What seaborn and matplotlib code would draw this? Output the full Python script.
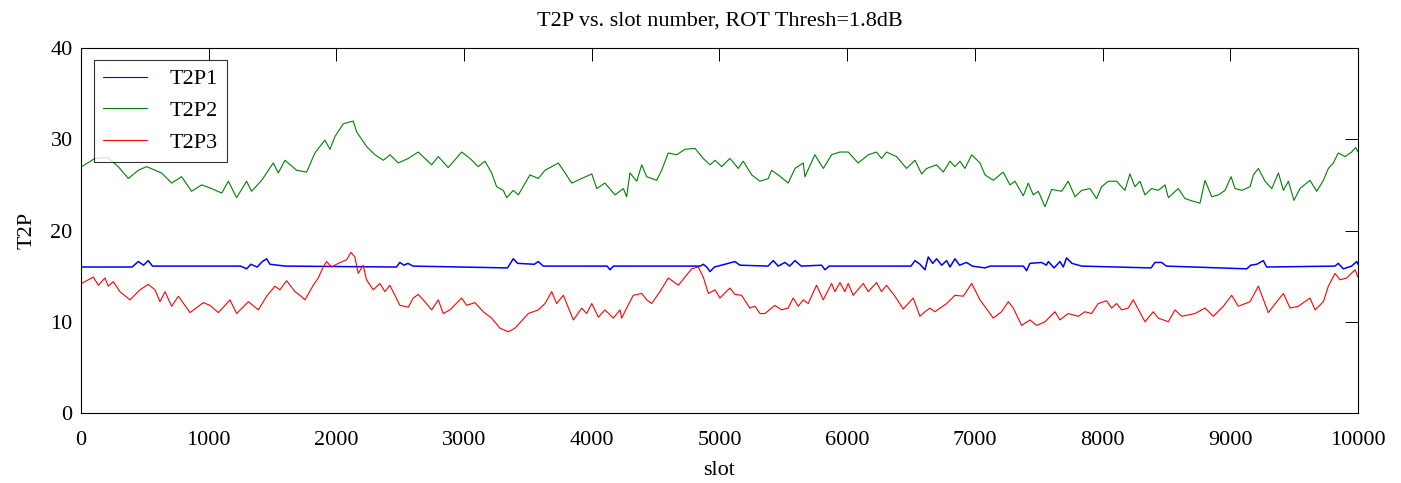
import pandas as pd
import matplotlib.pyplot as plt
import seaborn as sns

# values (slot, T2P)
slots_t2p1 = [0, 400, 449, 490, 527, 560, 1250, 1297, 1330, 1380, 1420, 1454, 1480, 1600,
              2470, 2497, 2530, 2560, 2600, 3340, 3385, 3420, 3550, 3581, 3620, 4120, 4143,
              4170, 4850, 4873, 4900, 4926, 4960, 5043, 5121, 5160, 5380, 5421, 5460, 5512,
              5550, 5591, 5640, 5800, 5826, 5860, 6500, 6531, 6570, 6609, 6635, 6670, 6700,
              6740, 6779, 6805, 6844, 6880, 6935, 6980, 7079, 7120, 7380, 7405, 7431, 7523,
              7560, 7575, 7620, 7666, 7692, 7718, 7760, 7836, 8380, 8410, 8462, 8500, 9129,
              9160, 9207, 9259, 9285, 9820, 9846, 9885, 9950, 9990, 10000]
t2p1 = [16.0, 16.0, 16.6, 16.2, 16.7, 16.1, 16.1, 15.8, 16.3, 16.0, 16.6, 16.9, 16.3, 16.1,
        16.0, 16.5, 16.2, 16.4, 16.1, 15.9, 16.9, 16.4, 16.3, 16.6, 16.1, 16.1, 15.7,
        16.1, 16.1, 16.3, 16.0, 15.5, 16.0, 16.3, 16.6, 16.2, 16.1, 16.7, 16.1, 16.5,
        16.1, 16.7, 16.1, 16.2, 15.7, 16.1, 16.1, 16.7, 16.3, 15.7, 17.1, 16.4, 16.9,
        16.2, 16.7, 16.0, 16.9, 16.2, 16.5, 16.1, 15.9, 16.1, 16.1, 15.6, 16.4, 16.5,
        16.2, 16.6, 15.9, 16.6, 16.0, 17.0, 16.4, 16.1, 15.9, 16.5, 16.5, 16.1, 15.8,
        16.2, 16.3, 16.7, 16.0, 16.1, 16.4, 15.8, 16.1, 16.6, 16.3]

slots_t2p2 = [5, 110, 210, 292, 371, 449, 514, 632, 710, 788, 866, 945, 1023, 1102, 1154,
              1219, 1297, 1336, 1415, 1506, 1545, 1597, 1689, 1767, 1832, 1910, 1950, 1989,
              2054, 2132, 2159, 2237, 2302, 2368, 2420, 2485, 2563, 2641, 2746, 2798, 2876,
              2981, 3046, 3111, 3164, 3216, 3255, 3307, 3334, 3385, 3425, 3516, 3581, 3634,
              3738, 3777, 3843, 3921, 4000, 4039, 4103, 4182, 4247, 4273, 4299, 4352, 4391,
              4430, 4508, 4547, 4599, 4665, 4730, 4808, 4873, 4926, 4965, 5017, 5082, 5147,
              5186, 5252, 5317, 5382, 5408, 5460, 5538, 5591, 5656, 5669, 5747, 5813, 5878,
              5943, 6008, 6086, 6165, 6230, 6269, 6308, 6387, 6465, 6531, 6583, 6622, 6700,
              6752, 6805, 6844, 6883, 6922, 6975, 7040, 7079, 7144, 7222, 7275, 7314, 7379,
              7418, 7457, 7497, 7549, 7601, 7679, 7731, 7784, 7836, 7901, 7953, 7992, 8045,
              8110, 8175, 8214, 8253, 8293, 8332, 8384, 8436, 8489, 8515, 8593, 8645, 8711,
              8763, 8802, 8855, 8907, 8959, 9006, 9037, 9090, 9155, 9181, 9220, 9272, 9325,
              9377, 9416, 9455, 9499, 9546, 9624, 9677, 9729, 9768, 9807, 9846, 9898, 9950,
              9982, 10000]
t2p2 = [27.0, 27.9, 28.0, 27.0, 25.7, 26.6, 27.0, 26.3, 25.2, 25.9, 24.3, 25.0, 24.6, 24.1, 25.4,
        23.6, 25.4, 24.3, 25.5, 27.4, 26.3, 27.7, 26.6, 26.4, 28.5, 29.9, 28.9, 30.3,
        31.7, 32.0, 30.8, 29.2, 28.3, 27.7, 28.3, 27.4, 27.9, 28.6, 27.2, 28.1, 26.9,
        28.6, 27.9, 27.0, 27.6, 26.3, 24.8, 24.4, 23.6, 24.4, 23.9, 26.1, 25.7, 26.6,
        27.4, 26.6, 25.2, 25.7, 26.2, 24.6, 25.2, 23.9, 24.6, 23.7, 26.3, 25.4, 27.2,
        25.9, 25.5, 26.6, 28.5, 28.3, 28.9, 29.0, 27.9, 27.2, 27.7, 27.0, 27.9, 26.8,
        27.6, 26.1, 25.4, 25.7, 26.6, 26.1, 25.2, 26.8, 27.4, 25.9, 28.3, 26.8, 28.3,
        28.6, 28.6, 27.4, 28.3, 28.6, 27.9, 28.6, 28.1, 26.8, 27.7, 26.2, 26.8, 27.2,
        26.4, 27.6, 27.0, 27.6, 26.8, 28.3, 27.4, 26.1, 25.5, 26.4, 25.0, 25.4, 23.8,
        25.2, 23.9, 24.3, 22.6, 24.5, 24.3, 25.4, 23.7, 24.4, 24.6, 23.5, 24.8, 25.4,
        25.4, 24.4, 26.2, 24.8, 25.4, 23.9, 24.6, 24.4, 25.0, 23.6, 24.6, 23.5, 23.2,
        23.0, 25.5, 23.7, 23.9, 24.4, 25.9, 24.6, 24.4, 24.8, 26.1, 26.8, 25.4, 24.6,
        26.3, 24.4, 25.4, 23.3, 24.6, 25.5, 24.3, 25.5, 26.8, 27.4, 28.5, 28.1, 28.6,
        29.1, 28.6]

slots_t2p3 = [5, 97, 136, 188, 214, 253, 305, 384, 462, 527, 580, 619, 658, 710, 763, 854, 958,
              1010, 1076, 1167, 1219, 1311, 1389, 1454, 1519, 1558, 1610, 1676, 1715, 1754,
              1819, 1858, 1897, 1923, 1963, 2015, 2080, 2114, 2145, 2171, 2210, 2236, 2289,
              2341, 2380, 2419, 2497, 2563, 2602, 2641, 2693, 2746, 2798, 2837, 2889, 2981,
              3020, 3085, 3150, 3216, 3281, 3347, 3399, 3503, 3581, 3634, 3686, 3725, 3777,
              3856, 3921, 3960, 4000, 4052, 4103, 4169, 4221, 4234, 4273, 4325, 4391, 4430,
              4469, 4534, 4599, 4638, 4678, 4730, 4782, 4834, 4873, 4913, 4965, 5004, 5082,
              5121, 5173, 5238, 5278, 5317, 5356, 5434, 5486, 5538, 5577, 5617, 5656, 5695,
              5760, 5813, 5878, 5904, 5943, 5982, 6008, 6047, 6126, 6165, 6230, 6269, 6308,
              6374, 6439, 6517, 6570, 6609, 6648, 6687, 6779, 6844, 6909, 6975, 7040, 7144,
              7209, 7262, 7301, 7366, 7431, 7484, 7549, 7627, 7666, 7731, 7810, 7862, 7914,
              7966, 8031, 8071, 8110, 8149, 8201, 8240, 8332, 8397, 8436, 8515, 8567, 8619,
              8724, 8802, 8867, 8946, 9011, 9063, 9155, 9220, 9298, 9364, 9416, 9468, 9533,
              9624, 9664, 9729, 9768, 9820, 9859, 9912, 9977, 10000]
t2p3 = [14.2, 14.9, 14.0, 14.8, 13.9, 14.4, 13.3, 12.4, 13.5, 14.1, 13.5, 12.2, 13.3, 11.7, 12.8, 11.0, 12.1,
        11.8, 11.0, 12.4, 10.9, 12.2, 11.3, 12.8, 13.9, 13.5, 14.5, 13.3, 12.9, 12.4,
        14.0, 14.8, 16.0, 16.6, 16.0, 16.4, 16.8, 17.6, 17.1, 15.3, 16.2, 14.6, 13.5,
        14.2, 13.3, 14.0, 11.8, 11.6, 12.6, 13.0, 12.2, 11.3, 12.4, 10.9, 11.3, 12.6,
        11.8, 12.1, 11.1, 10.4, 9.3, 8.9, 9.3, 10.9, 11.3, 12.0, 13.3, 12.0, 12.9,
        10.2, 11.5, 10.9, 12.0, 10.5, 11.3, 10.4, 11.3, 10.4, 11.5, 12.9, 13.1, 12.4,
        12.0, 13.3, 14.8, 14.4, 14.0, 14.9, 15.8, 16.0, 14.9, 13.1, 13.5, 12.6, 13.7,
        13.0, 12.9, 11.5, 11.7, 10.9, 10.9, 11.8, 11.3, 11.5, 12.6, 11.7, 12.4, 12.0,
        14.0, 12.4, 14.2, 13.3, 14.3, 13.3, 14.2, 12.9, 14.2, 13.3, 14.3, 13.3, 14.0,
        12.8, 11.4, 12.6, 10.6, 11.1, 11.5, 11.1, 12.0, 12.9, 12.8, 14.2, 12.4, 10.4,
        11.1, 12.2, 11.5, 9.6, 10.2, 9.6, 10.0, 11.1, 10.2, 10.9, 10.6, 11.1, 10.9,
        12.0, 12.3, 11.5, 12.0, 11.3, 11.5, 12.4, 10.0, 11.1, 10.4, 10.0, 11.3, 10.6,
        10.9, 11.5, 10.6, 11.7, 12.9, 11.7, 12.2, 13.9, 11.0, 12.2, 13.1, 11.5, 11.7,
        12.6, 11.3, 12.2, 13.9, 15.3, 14.6, 14.8, 15.7, 14.9]

series_names = ['T2P1', 'T2P2', 'T2P3']
colors = {'T2P1': '#0000ff', 'T2P2': '#008000', 'T2P3': '#ff0000'}

df = pd.concat([
    pd.DataFrame({'slot': slots_t2p1, 'T2P': t2p1, 'series': 'T2P1'}),
    pd.DataFrame({'slot': slots_t2p2, 'T2P': t2p2, 'series': 'T2P2'}),
    pd.DataFrame({'slot': slots_t2p3, 'T2P': t2p3, 'series': 'T2P3'}),
], ignore_index=True)

sns.set_style('white')
plt.rcParams['font.family'] = ['Liberation Serif', 'DejaVu Serif']
plt.rcParams['font.size'] = 16
plt.rcParams['text.color'] = 'black'
plt.rcParams['axes.labelcolor'] = 'black'
plt.rcParams['xtick.color'] = 'black'
plt.rcParams['ytick.color'] = 'black'

fig = plt.figure(figsize=(14.01, 4.83), dpi=100)
ax = fig.add_axes([0.0578, 0.1449, 0.9115, 0.7557])

sns.lineplot(data=df, x='slot', y='T2P', hue='series', hue_order=series_names,
             palette=colors, estimator=None, linewidth=0.8, ax=ax)
ax.lines[0].set_linewidth(1.1)

ax.set_xlim(0, 10000)
ax.set_ylim(0, 40)
ax.set_xticks(range(0, 10001, 1000))
ax.set_yticks(range(0, 41, 10))
ax.tick_params(direction='in', length=9.2, width=0.7, top=True, right=True,
               labelsize=16, colors='black')
ax.tick_params(axis='x', pad=13)
ax.tick_params(axis='y', pad=6)
for s in ax.spines.values():
    s.set_color('black')
    s.set_linewidth(0.8)

ax.set_title('T2P vs. slot number, ROT Thresh=1.8dB', fontsize=16, pad=16)
ax.set_xlabel('slot', fontsize=16, labelpad=8)
ax.set_ylabel('T2P', fontsize=16, labelpad=10)

handles, labels = ax.get_legend_handles_labels()
leg = ax.legend(handles, labels, loc='upper left', bbox_to_anchor=(0.0102, 0.967),
                borderaxespad=0, frameon=True, fancybox=False, fontsize=16,
                handlelength=2.0, handletextpad=1.0, labelspacing=0.5,
                borderpad=0.4)
leg.get_frame().set_edgecolor('black')
leg.get_frame().set_linewidth(0.8)

fig.savefig('out.png', dpi=100)
